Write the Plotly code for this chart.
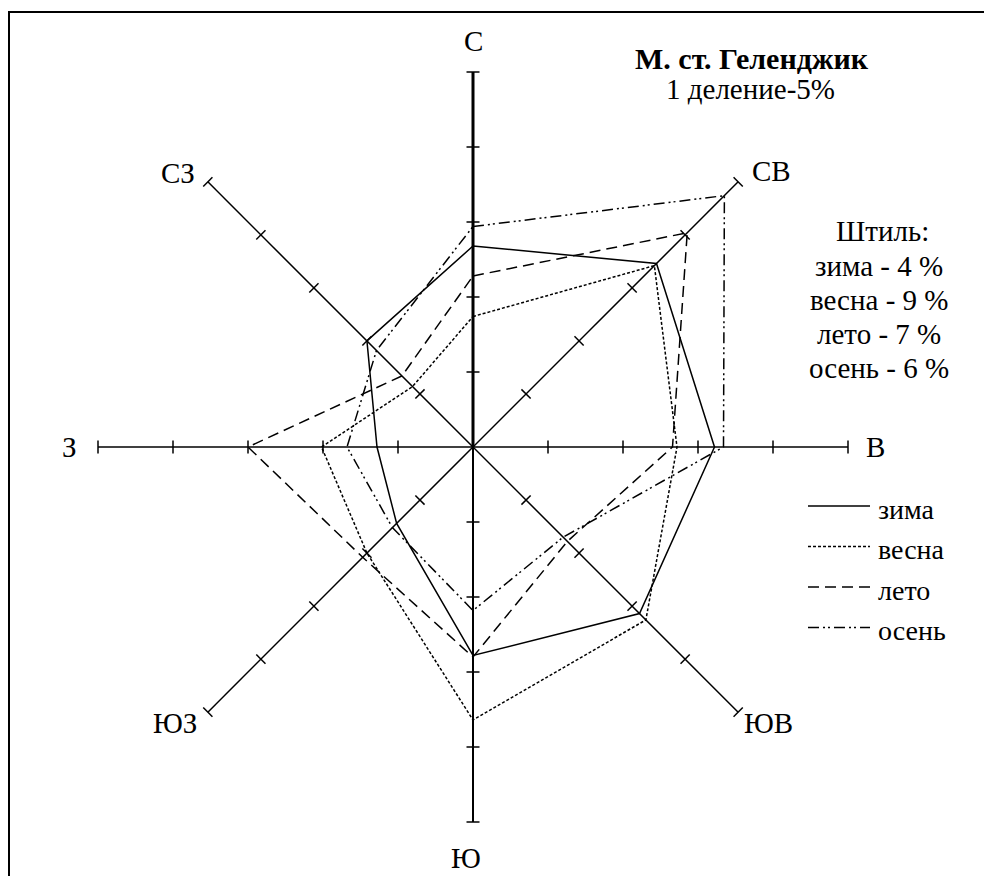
import numpy as np
import plotly.graph_objs as go

# повторяемость направлений ветра, %
directions = ["С", "СВ", "В", "ЮВ", "Ю", "ЮЗ", "З", "СЗ"]
seasons = ["зима", "весна", "лето", "осень"]
winter = [13.4, 17.3, 16.1, 15.7, 13.9, 7.2, 6.4, 10.0]
spring = [8.7, 17.1, 13.6, 16.3, 18.2, 10.0, 10.1, 5.7]
summer = [11.4, 20.2, 13.3, 8.9, 14.0, 10.4, 15.0, 6.7]
autumn = [14.7, 23.7, 16.7, 8.5, 10.9, 7.6, 8.4, 9.1]
calm = [4, 9, 7, 6]
ticks = [5, 10, 15, 20, 25]

OFF = 8             # поле body в браузере
W, H = 992 - OFF, 876 - OFF
CX, CY = 473 - OFF, 447 - OFF   # центр розы, px
PX = 15             # px на 1 %
FONT = "Liberation Serif"

dashes = ["solid", "3px,2px", "11px,6px", "11px,4px,2px,3px,2px,4px"]


def px_to_paper(x, y):
    # координаты снимаются с эталона, поэтому вычитаем поле
    return (x - OFF) / W, 1 - (y - OFF) / H


def rose_xy(values):
    ang = np.deg2rad(np.arange(len(values)) * 45.0)
    r = np.array(values + values[:1])
    ang = np.append(ang, ang[0])
    return r * np.sin(ang), r * np.cos(ang)


def text(x, y, s, size=29, xanchor="center", ref="paper"):
    return dict(x=x, y=y, xref=ref, yref=ref, text=s, showarrow=False,
                xanchor=xanchor, yanchor="middle",
                font=dict(family=FONT, size=size, color="black"))


fig = go.Figure()

# оси румбов с делениями
shapes = []
for i in range(8):
    a = np.deg2rad(i * 45.0)
    ux, uy = np.sin(a), np.cos(a)
    width = 3 if i == 0 else (2 if i == 4 else 1.5)
    shapes.append(dict(type="line", xref="x", yref="y", x0=0, y0=0,
                       x1=ticks[-1] * ux, y1=ticks[-1] * uy,
                       line=dict(color="black", width=width)))
    half = 6.5 / PX
    for t in ticks:
        shapes.append(dict(type="line", xref="x", yref="y",
                           x0=t * ux - half * uy, y0=t * uy + half * ux,
                           x1=t * ux + half * uy, y1=t * uy - half * ux,
                           line=dict(color="black", width=1.5)))

for name, vals, dash in zip(seasons, [winter, spring, summer, autumn], dashes):
    x, y = rose_xy(vals)
    fig.add_trace(go.Scatter(x=x, y=y, mode="lines", name=name,
                             line=dict(color="black", width=1.5, dash=dash),
                             showlegend=False, hoverinfo="skip"))

# подписи румбов
label_pos = [(0, 27.1), (19.9, 18.4), (26.8, 0), (19.7, -18.4),
             (-0.5, -27.4), (-19.9, -18.4), (-26.9, 0), (-19.7, 18.3)]
annotations = [text(lx, ly, d, size=29, ref="x") for d, (lx, ly) in zip(directions, label_pos)]
for a in annotations:
    a["yref"] = "y"

# заголовок
annotations.append(text(*px_to_paper(752, 58), "<b>М. ст. Геленджик</b>", size=30))
annotations.append(text(*px_to_paper(750, 89), "1 деление-5%"))
annotations.append(text(*px_to_paper(882, 231), "Штиль:"))
for k, (s, c) in enumerate(zip(seasons, calm)):
    annotations.append(text(*px_to_paper(879, 266 + k * 34), f"{s} - {c} %"))

# легенда
for k, (s, dash) in enumerate(zip(seasons, dashes)):
    ly = 506 + k * 40.5
    x0, y0 = px_to_paper(808, ly)
    x1, _ = px_to_paper(870, ly)
    shapes.append(dict(type="line", xref="paper", yref="paper", x0=x0, y0=y0, x1=x1, y1=y0,
                       line=dict(color="black", width=1.5, dash=dash)))
    annotations.append(text(*px_to_paper(876, ly + 3), s, size=28, xanchor="left"))

# рамка
bx, by = px_to_paper(9, 12)
shapes.append(dict(type="rect", xref="paper", yref="paper", x0=bx, y0=-0.05, x1=1.05, y1=by,
                   line=dict(color="black", width=2)))

fig.update_layout(
    width=W, height=H,
    margin=dict(l=0, r=0, t=0, b=0),
    paper_bgcolor="white", plot_bgcolor="white",
    xaxis=dict(range=[-CX / PX, (W - CX) / PX], visible=False, fixedrange=True),
    yaxis=dict(range=[-(H - CY) / PX, CY / PX], visible=False, fixedrange=True),
    shapes=shapes, annotations=annotations,
)

fig.write_html("out.html")
